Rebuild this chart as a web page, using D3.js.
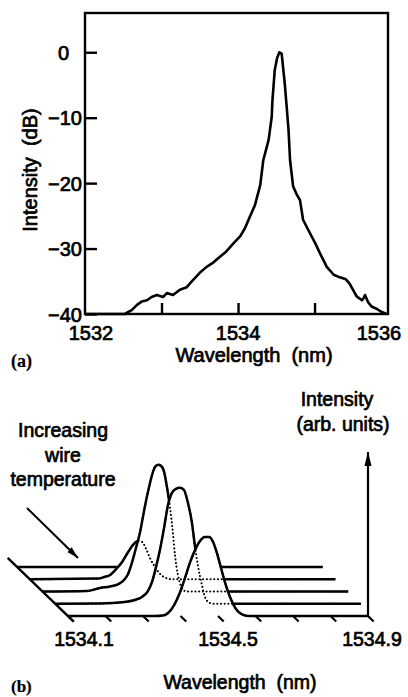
<!DOCTYPE html>
<html><head><meta charset="utf-8">
<script src="https://cdn.jsdelivr.net/npm/d3@7"></script>
<style>
html,body{margin:0;padding:0;background:#fff;}
svg{display:block;}
text{font-family:"Liberation Sans",Arial,Helvetica,sans-serif;fill:#000;stroke:#000;stroke-width:0.7px;}
text.panel{font-family:"Liberation Serif","Times New Roman",serif;font-weight:bold;stroke-width:0.2px;}
</style></head><body>
<svg id="chart" width="408" height="697"></svg>
<script>
// ================= DATA =================
// Panel (a): spectrum, wavelength (nm) vs intensity (dB)
const specWavelength = [1532.00,1532.52,1532.61,1532.68,1532.74,1532.81,1532.87,1532.94,1533.02,1533.07,
                        1533.15,1533.24,1533.33,1533.39,1533.50,1533.59,1533.68,1533.76,1533.85,1533.94,
                        1534.03,1534.09,1534.16,1534.22,1534.29,1534.33,1534.40,1534.44,1534.45,1534.48,
                        1534.51,1534.54,1534.57,1534.61,1534.64,1534.66,1534.68,1534.72,1534.77,1534.81,
                        1534.85,1534.92,1535.01,1535.07,1535.16,1535.25,1535.33,1535.41,1535.46,1535.55,
                        1535.62,1535.64,1535.66,1535.70,1535.75,1535.81,1535.88,1535.94];
const specDb         = [-40.0,-40.0,-39.4,-38.6,-38.1,-37.9,-37.4,-37.1,-37.4,-36.8,
                        -37.1,-36.3,-35.9,-35.1,-33.7,-32.8,-32.1,-31.3,-30.4,-29.2,
                        -28.1,-26.9,-25.0,-23.4,-20.3,-16.5,-13.4,-9.9,-7.3,-2.7,
                        -0.9,0.0,-0.2,-4.7,-8.9,-11.9,-16.5,-20.5,-21.8,-22.6,
                        -25.6,-27.2,-29.2,-30.7,-32.8,-34.0,-34.4,-34.7,-35.4,-37.3,
                        -37.9,-37.6,-37.1,-38.2,-38.9,-39.2,-39.7,-40.0];
const aXTicks = [1533, 1534, 1535];
const aXTickLabels = [1532, 1534, 1536];
const aYTicks = [0, -10, -20, -30, -40];

// Panel (b): waterfall traces, back (0) to front (4); intensity in arb. units
const bTicks = [1534.1,1534.2,1534.3,1534.4,1534.5,1534.6,1534.7,1534.8,1534.9];
const bTickLabels = [1534.1, 1534.5, 1534.9];

const trace0Wl = [1534.100, 1534.915];
const trace0I  = [0, 0];

const trace1Wl = [1534.100,1534.282,1534.298,1534.314,1534.330,1534.346,1534.362,1534.375,1534.388,
                  1534.399,1534.410,1534.420,1534.434,1534.447,1534.463,1534.479,1534.915];
const trace1I  = [0,0.005,0.018,0.034,0.081,0.137,0.216,0.272,0.304,
                  0.296,0.240,0.169,0.097,0.042,0.010,0,0];

const trace2Wl = [1534.100,1534.218,1534.253,1534.280,1534.301,1534.317,1534.328,1534.338,1534.349,
                  1534.360,1534.370,1534.381,1534.392,1534.400,1534.408,1534.416,1534.424,1534.432,
                  1534.440,1534.448,1534.453,1534.461,1534.469,1534.480,1534.493,1534.915];
const trace2I  = [0,0.004,0.028,0.040,0.056,0.091,0.139,0.226,0.345,
                  0.472,0.631,0.790,0.925,0.988,1.004,0.996,0.948,0.821,
                  0.663,0.448,0.290,0.131,0.044,0.004,0,0];

const trace3Wl = [1534.100,1534.219,1534.285,1534.312,1534.331,1534.347,1534.358,1534.368,1534.379,
                  1534.390,1534.400,1534.411,1534.422,1534.432,1534.443,1534.453,1534.464,1534.472,
                  1534.480,1534.491,1534.499,1534.512,1534.528,1534.915];
const trace3I  = [0,0.002,0.014,0.030,0.054,0.101,0.173,0.284,0.427,
                  0.601,0.776,0.879,0.911,0.919,0.903,0.808,0.649,0.466,
                  0.308,0.149,0.054,0.006,0,0];

const trace4Wl = [1534.100,1534.332,1534.353,1534.367,1534.383,1534.399,1534.412,1534.425,1534.439,
                  1534.452,1534.465,1534.476,1534.487,1534.497,1534.508,1534.519,1534.532,1534.548,
                  1534.564,1534.580,1534.900];
const trace4I  = [0,0,0.004,0.024,0.087,0.190,0.302,0.421,0.524,
                  0.595,0.627,0.627,0.587,0.500,0.381,0.262,0.151,0.056,
                  0.012,0,0];

// ================= DRAWING =================
const svg = d3.select('#chart');
const ink = '#000';

// ---------- Panel (a) ----------
const xA = d3.scaleLinear().domain([1532, 1535.96]).range([85, 388]);
const yA = d3.scaleLinear().domain([-40, 6]).range([314, 13]);
const gA = svg.append('g');

gA.append('rect')
  .attr('x', xA(1532)).attr('y', yA(6))
  .attr('width', xA(1535.96) - xA(1532)).attr('height', yA(-40) - yA(6))
  .attr('fill', 'none').attr('stroke', ink).attr('stroke-width', 2.4);

const axL = d3.axisLeft(yA).tickValues(aYTicks).tickSize(-12).tickPadding(3)
  .tickFormat(d => d === 0 ? '0' : '\u2212' + Math.abs(d));
gA.append('g').attr('transform', `translate(${xA(1532)},0)`).call(axL)
  .call(g => g.select('.domain').remove())
  .call(g => g.selectAll('line').attr('stroke', ink).attr('stroke-width', 2.4))
  .call(g => g.selectAll('text').attr('font-size', 20).attr('font-family', null)
      .attr('dy', '0.36em').attr('dx', d => d === 0 ? -13 : 0));

const axB = d3.axisBottom(xA).tickValues(aXTicks).tickSize(-11).tickFormat('');
gA.append('g').attr('transform', `translate(0,${yA(-40)})`).call(axB)
  .call(g => g.select('.domain').remove())
  .call(g => g.selectAll('line').attr('stroke', ink).attr('stroke-width', 2.4));

gA.selectAll('text.xlab').data(aXTickLabels).join('text').attr('class', 'xlab')
  .attr('x', d => Math.min(Math.max(xA(d), 91), 379)).attr('y', 340)
  .attr('text-anchor', 'middle').attr('font-size', 20).text(d => d);

const lineA = d3.line().x((d, i) => xA(specWavelength[i])).y(d => yA(d)).curve(d3.curveLinear);
gA.append('path').datum(specDb).attr('d', lineA)
  .attr('fill', 'none').attr('stroke', ink).attr('stroke-width', 2.6)
  .attr('stroke-linejoin', 'round');

gA.append('text').attr('x', 254).attr('y', 362).attr('text-anchor', 'middle')
  .attr('font-size', 20).text('Wavelength\u00a0 (nm)');
gA.append('text').attr('transform', 'translate(37,170) rotate(-90)').attr('text-anchor', 'middle')
  .attr('font-size', 20).text('Intensity\u00a0 (dB)');
gA.append('text').attr('class', 'panel').attr('x', 11).attr('y', 367)
  .attr('font-size', 18).text('(a)');

// ---------- Panel (b) ----------
const xB = d3.scaleLinear().domain([1534.1, 1534.9]).range([68, 368]);
const yB = d3.scaleLinear().domain([0, 1.3]).range([616, 452]);
const depthX = d3.scaleLinear().domain([0, 4]).range([-50.8, 0]);
const depthY = d3.scaleLinear().domain([0, 4]).range([-49, 0]);
const labelX = d3.scaleLinear().domain([1534.1, 1534.9]).range([84, 372]);

const traces = [
  {wl: trace0Wl, I: trace0I, depth: 0, hidden: false},
  {wl: trace1Wl, I: trace1I, depth: 1, hidden: true},
  {wl: trace2Wl, I: trace2I, depth: 2, hidden: true},
  {wl: trace3Wl, I: trace3I, depth: 3, hidden: true},
  {wl: trace4Wl, I: trace4I, depth: 4, hidden: true}
];
traces.forEach(t => { t.pts = t.wl.map((w, i) => [w, t.I[i]]); });

const lineFor = t => d3.line()
  .x(p => xB(p[0]) + depthX(t.depth)).y(p => yB(p[1]) + depthY(t.depth))
  .curve(d3.curveMonotoneX);
const areaFor = t => d3.area()
  .x(p => xB(p[0]) + depthX(t.depth))
  .y0(yB(0) + depthY(t.depth)).y1(p => yB(p[1]) + depthY(t.depth))
  .curve(d3.curveMonotoneX);

const defs = svg.append('defs');
traces.forEach((t, k) => {
  const m = defs.append('mask').attr('id', 'hide' + k).attr('maskUnits', 'userSpaceOnUse')
    .attr('x', 0).attr('y', 0).attr('width', 408).attr('height', 697);
  m.append('rect').attr('width', 408).attr('height', 697).attr('fill', 'white');
  traces.filter(f => f.depth > t.depth).forEach(f => {
    m.append('path').attr('d', areaFor(f)(f.pts)).attr('fill', 'black')
      .attr('stroke', 'black').attr('stroke-width', 1.2);
  });
});
defs.append('marker').attr('id', 'arrowV').attr('viewBox', '0 -4 14 8')
  .attr('refX', 14).attr('refY', 0).attr('markerWidth', 14).attr('markerHeight', 8)
  .attr('markerUnits', 'userSpaceOnUse').attr('orient', 'auto')
  .append('path').attr('d', 'M0,-3.6L14,0L0,3.6Z').attr('fill', ink);
defs.append('marker').attr('id', 'arrowT').attr('viewBox', '0 -4 12 8')
  .attr('refX', 12).attr('refY', 0).attr('markerWidth', 12).attr('markerHeight', 8)
  .attr('markerUnits', 'userSpaceOnUse').attr('orient', 'auto')
  .append('path').attr('d', 'M0,-3.2L12,0L0,3.2Z').attr('fill', ink);

const gB = svg.append('g');

// depth (diagonal) axis
gB.append('line')
  .attr('x1', xB(1534.1) + depthX(-0.75)).attr('y1', yB(0) + depthY(-0.75))
  .attr('x2', xB(1534.1) + depthX(4.45)).attr('y2', yB(0) + depthY(4.45))
  .attr('stroke', ink).attr('stroke-width', 2.4);

// wavelength ticks (slanted along depth direction)
gB.selectAll('line.btick').data(bTicks).join('line').attr('class', 'btick')
  .attr('x1', d => xB(d)).attr('y1', yB(0))
  .attr('x2', d => xB(d) + depthX(4.45)).attr('y2', yB(0) + depthY(4.45))
  .attr('stroke', ink).attr('stroke-width', 2.2);

// traces: hidden parts dotted, visible parts solid
traces.forEach((t, k) => {
  if (t.hidden) {
    gB.append('path').attr('d', lineFor(t)(t.pts)).attr('fill', 'none')
      .attr('stroke', ink).attr('stroke-width', 2).attr('stroke-linecap', 'round')
      .attr('stroke-dasharray', '0.1 3.6');
  }
  gB.append('path').attr('d', lineFor(t)(t.pts)).attr('fill', 'none')
    .attr('stroke', ink).attr('stroke-width', 2.5).attr('stroke-linejoin', 'round')
    .attr('mask', `url(#hide${k})`);
});

// intensity axis with arrow
gB.append('line').attr('x1', xB(1534.9)).attr('y1', yB(0))
  .attr('x2', xB(1534.9)).attr('y2', yB(1.3))
  .attr('stroke', ink).attr('stroke-width', 2.2).attr('marker-end', 'url(#arrowV)');

// tick labels
gB.selectAll('text.blab').data(bTickLabels).join('text').attr('class', 'blab')
  .attr('x', d => labelX(d)).attr('y', 646).attr('text-anchor', 'middle')
  .attr('font-size', 19.5).text(d => d.toFixed(1));

gB.append('text').attr('x', 240).attr('y', 689).attr('text-anchor', 'middle')
  .attr('font-size', 19.5).text('Wavelength\u00a0 (nm)');
gB.append('text').attr('x', 337).attr('y', 406).attr('text-anchor', 'middle')
  .attr('font-size', 19.5).text('Intensity');
gB.append('text').attr('x', 343).attr('y', 431).attr('text-anchor', 'middle')
  .attr('font-size', 19.5).text('(arb. units)');

const note = ['Increasing', 'wire', 'temperature'];
gB.selectAll('text.note').data(note).join('text').attr('class', 'note')
  .attr('x', 63).attr('y', (d, i) => 437 + i * 24.5).attr('text-anchor', 'middle')
  .attr('font-size', 19.5).text(d => d);

gB.append('line').attr('x1', 27).attr('y1', 508).attr('x2', 78).attr('y2', 558)
  .attr('stroke', ink).attr('stroke-width', 2).attr('marker-end', 'url(#arrowT)');

gB.append('text').attr('class', 'panel').attr('x', 11).attr('y', 692)
  .attr('font-size', 17).text('(b)');
</script>
</body></html>
